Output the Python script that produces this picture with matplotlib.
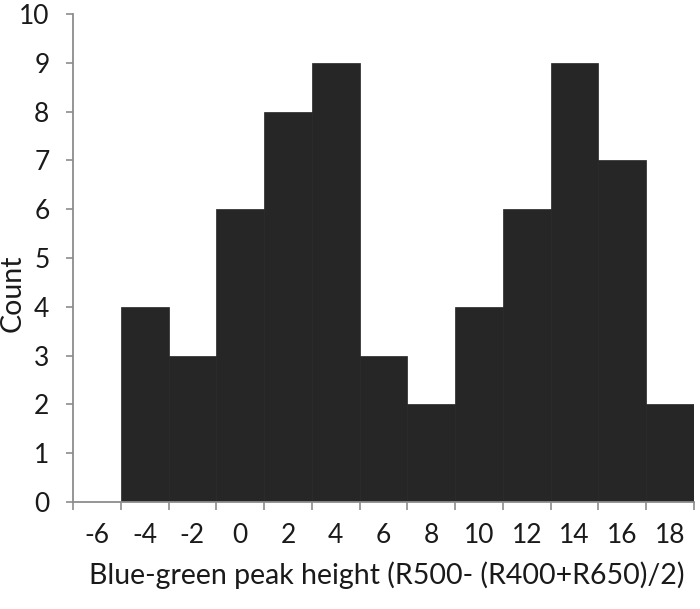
import matplotlib
matplotlib.use("Agg")
import matplotlib.pyplot as plt
import numpy as np

categories = ['-6', '-4', '-2', '0', '2', '4', '6', '8', '10', '12', '14', '16', '18']
counts = [0, 4, 3, 6, 8, 9, 3, 2, 4, 6, 9, 7, 2]
yticks = list(range(0, 11))
xlabel = 'Blue-green peak height (R500- (R400+R650)/2)'
ylabel = 'Count'

plt.rcParams['font.family'] = ['Lato', 'DejaVu Sans']

W, H = 700, 609
fig = plt.figure(figsize=(W / 100, H / 100), dpi=100)
ax = fig.add_axes([73 / W, 1 - 502 / H, (694 - 73) / W, (502 - 14) / H])

x = np.arange(len(categories))
ax.bar(x, counts, width=1.0, color='#262626', edgecolor='#262626', linewidth=0.5)

ax.set_xlim(-0.5, len(categories) - 0.5)
ax.set_ylim(0, 10)

spine_col = '#8c8c8c'
for s in ['top', 'right']:
    ax.spines[s].set_visible(False)
for s in ['left', 'bottom']:
    ax.spines[s].set_color(spine_col)
    ax.spines[s].set_linewidth(1.3)

ax.set_yticks(yticks)
ax.set_yticklabels([str(v) for v in yticks])
ax.tick_params(axis='y', direction='out', length=5, width=1.2, color=spine_col,
               labelsize=19, labelcolor='#1a1a1a', pad=12)

ax.set_xticks(np.arange(-0.5, len(categories), 1.0))
ax.set_xticklabels([])
ax.set_xticks(x, minor=True)
ax.set_xticklabels(categories, minor=True)
ax.tick_params(axis='x', which='major', direction='out', length=6, width=1.2, color=spine_col)
ax.tick_params(axis='x', which='minor', length=0, labelsize=19, labelcolor='#1a1a1a', pad=15)

fig.text(387 / W, 1 - 575 / H, xlabel, ha='center', va='center', fontsize=20.5, color='#1a1a1a')
fig.text(13 / W, 1 - 293 / H, ylabel, ha='center', va='center', rotation=90, fontsize=20.5, color='#1a1a1a')

fig.savefig('out.png', dpi=100)
